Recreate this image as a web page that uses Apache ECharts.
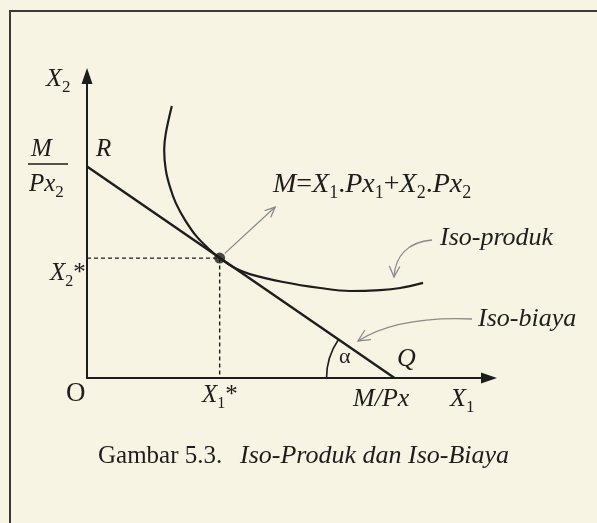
<!DOCTYPE html>
<html><head><meta charset="utf-8">
<script src="https://cdn.jsdelivr.net/npm/echarts@6/dist/echarts.min.js"></script>
<style>html,body{margin:0;padding:0;background:#f8f4e3;}#c{width:597px;height:523px;}</style>
</head><body><div id="c"></div>
<script>
// ---- data (axis units 0..10) ----
const isoCostLine = [[0, 7.0], [7.65, 0]];              // R (0, M/Px2) to Q (M/Px, 0)
const isoProductCurve = [
  [2.11, 9.01], [1.96, 8.10], [1.92, 7.55], [1.96, 6.89], [2.06, 6.34],
  [2.21, 5.79], [2.44, 5.23], [2.73, 4.68], [3.06, 4.24], [3.30, 3.97],
  [3.68, 3.64], [4.05, 3.44], [4.88, 3.18], [5.80, 2.98], [6.54, 2.88],
  [7.29, 2.91], [7.79, 2.98], [8.36, 3.15]
];
const optimum = [3.30, 3.97];                           // (X1*, X2*)
const guideLines = [[0, 3.97], [3.30, 3.97], [3.30, 0]];
const expansionArrow = [[3.30, 3.97], [4.68, 5.66]];
const axisRange = [0, 10];

const F = 'Liberation Serif';
const INK = '#1d1d1d';
const GREY = '#8a8a8a';

const chart = echarts.init(document.getElementById('c'), null, {renderer: 'canvas'});

const axisCommon = {
  type: 'value', min: axisRange[0], max: axisRange[1],
  axisLine: {show: true, onZero: false, symbol: ['none', 'triangle'], symbolSize: [11, 16],
             lineStyle: {color: INK, width: 2}},
  axisTick: {show: false}, axisLabel: {show: false}, splitLine: {show: false}
};

chart.setOption({
  animation: false,
  backgroundColor: '#f8f4e3',
  grid: {left: 87, right: 108, top: 76, bottom: 145, outerBoundsMode: 'none'},
  xAxis: Object.assign({}, axisCommon),
  yAxis: Object.assign({}, axisCommon),
  series: [
    {type: 'line', data: guideLines, symbol: 'none', z: 2,
     lineStyle: {color: INK, width: 1.4, type: [4, 3]}},
    {type: 'line', data: isoCostLine, symbol: 'none', z: 3,
     lineStyle: {color: INK, width: 2.4}},
    {type: 'line', data: isoProductCurve, symbol: 'none', smooth: 0.35, z: 3,
     lineStyle: {color: INK, width: 2.2}},
    {type: 'scatter', data: [optimum], symbolSize: 11, z: 4,
     itemStyle: {color: INK}}
  ]
});

const px = v => chart.convertToPixel({gridIndex: 0}, v);

function makeRich(fs, sfs, pad) {
  return {
    i: {fontFamily: F, fontStyle: 'italic', fontSize: fs, fill: INK, verticalAlign: 'middle'},
    r: {fontFamily: F, fontSize: fs, fill: INK, verticalAlign: 'middle'},
    s: {fontFamily: F, fontSize: sfs, fill: INK, verticalAlign: 'middle', padding: [pad, 0, 0, 0]}
  };
}
function label(x, baseline, text, fs, sfs, pad) {
  fs = fs || 25; sfs = sfs || 16; pad = pad || 16;
  return {type: 'text', x: x, y: baseline - 0.34 * fs, z: 10,
    style: {text: text, rich: makeRich(fs, sfs, pad), fontFamily: F, fontSize: fs, fill: INK,
      verticalAlign: 'middle', align: 'left'}};
}
function arrowHead(tip, from, len, spread) {
  const a = Math.atan2(from[1] - tip[1], from[0] - tip[0]);
  const p1 = [tip[0] + len * Math.cos(a + spread), tip[1] + len * Math.sin(a + spread)];
  const p2 = [tip[0] + len * Math.cos(a - spread), tip[1] + len * Math.sin(a - spread)];
  return {type: 'polyline', z: 6, shape: {points: [p1, tip, p2]},
          style: {stroke: GREY, lineWidth: 1.3, fill: null}};
}

const o = px(optimum);
const aEnd = px(expansionArrow[1]);
const dirA = Math.atan2(aEnd[1] - o[1], aEnd[0] - o[0]);
const aStart = [o[0] + 7 * Math.cos(dirA), o[1] + 7 * Math.sin(dirA)];
const q = px(isoCostLine[1]);
const r0 = px(isoCostLine[0]);
const lineAng = Math.atan2(r0[1] - q[1], r0[0] - q[0]); // canvas angle from Q towards R

const graphics = [
  // frame of the figure
  {type: 'polyline', z: 1, shape: {points: [[10, 523], [10, 11], [597, 11]]},
   style: {stroke: '#3a3a3a', lineWidth: 2, fill: null}},
  // expansion arrow
  {type: 'line', z: 6, shape: {x1: aStart[0], y1: aStart[1], x2: aEnd[0], y2: aEnd[1]},
   style: {stroke: GREY, lineWidth: 1.3}},
  arrowHead(aEnd, aStart, 11, 0.42),
  // Iso-produk pointer
  {type: 'bezierCurve', z: 6, shape: {x1: 432, y1: 240, cpx1: 408, cpy1: 242, cpx2: 395, cpy2: 256, x2: 394, y2: 277},
   style: {stroke: GREY, lineWidth: 1.3, fill: null}},
  arrowHead([394, 277], [395, 258], 12, 0.45),
  // Iso-biaya pointer
  {type: 'bezierCurve', z: 6, shape: {x1: 472, y1: 319, cpx1: 425, cpy1: 317, cpx2: 385, cpy2: 324, x2: 358, y2: 341},
   style: {stroke: GREY, lineWidth: 1.3, fill: null}},
  arrowHead([358, 341], [385, 324], 13, 0.45),
  // angle alpha
  {type: 'arc', z: 6, shape: {cx: q[0], cy: q[1], r: 68, startAngle: Math.PI, endAngle: lineAng + 2 * Math.PI, clockwise: true},
   style: {stroke: INK, lineWidth: 1.6, fill: null}},
  // fraction bar M / Px2
  {type: 'line', z: 6, shape: {x1: 28, y1: 164, x2: 68, y2: 164}, style: {stroke: INK, lineWidth: 1.6}},

  label(46, 88, '{i|X}{s|2}', 26, 17, 16),
  label(31, 158, '{i|M}'),
  label(29, 193, '{i|Px}{s|2}', 25, 17, 16),
  label(96, 158, '{i|R}'),
  label(50, 282, '{i|X}{s|2}{r|*}'),
  label(66, 403, '{r|O}', 27),
  label(202, 404, '{i|X}{s|1}{r|*}'),
  label(353, 408, '{i|M/Px}', 26),
  label(450, 408, '{i|X}{s|1}', 26, 17, 16),
  label(273, 194, '{i|M}{r|=}{i|X}{s|1}{r|.}{i|Px}{s|1}{r|+}{i|X}{s|2}{r|.}{i|Px}{s|2}', 28, 18, 18),
  label(440, 247, '{i|Iso-produk}', 26),
  label(478, 328, '{i|Iso-biaya}', 26),
  label(339, 365, '{r|α}', 22),
  label(397, 368, '{i|Q}', 26),
  label(98, 465, '{r|Gambar 5.3.}', 25),
  label(240, 465, '{i|Iso-Produk dan Iso-Biaya}', 26)
];

chart.setOption({graphic: graphics});
</script></body></html>
